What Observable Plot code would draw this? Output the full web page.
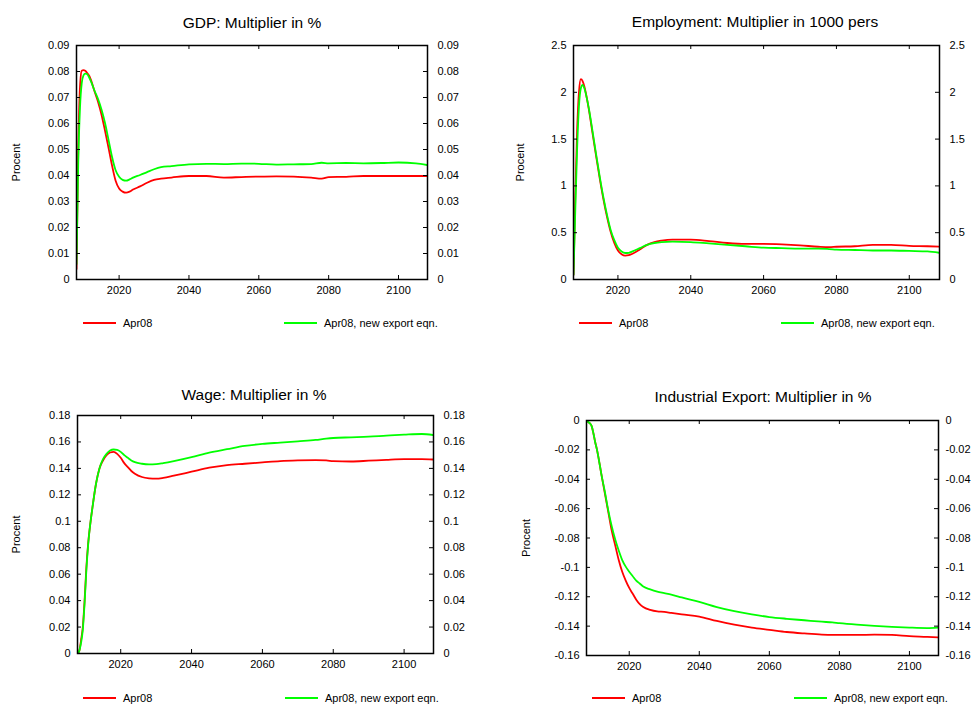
<!DOCTYPE html>
<html><head><meta charset="utf-8">
<script src="https://cdn.jsdelivr.net/npm/d3@7"></script>
<script src="https://cdn.jsdelivr.net/npm/@observablehq/plot@0.6"></script>
<style>
html,body{margin:0;background:#fff;overflow:hidden;}
#wrap{position:relative;width:974px;height:704px;overflow:hidden;font-family:"Liberation Sans",Arial,sans-serif;color:#000;}
.title{position:absolute;font-size:15.5px;line-height:18px;transform:translateX(-50%);white-space:nowrap;}
.panel{position:absolute;}
.leg{position:absolute;font-size:11px;line-height:13px;white-space:nowrap;}
.leg .sw{display:inline-block;width:33px;height:0;border-top:2px solid;vertical-align:middle;margin-right:7px;position:relative;top:-1px;}
</style></head><body><div id="wrap"></div>
<script>
// ---------- data ----------
const years = [2007.8, 2008.3, 2008.8, 2009.3, 2009.8, 2010.3, 2010.8, 2011.5, 2012, 2013, 2014, 2015, 2016, 2017, 2018, 2019, 2020, 2021, 2022, 2023, 2024, 2026, 2028, 2030, 2032, 2035, 2040, 2045, 2050, 2055, 2060, 2065, 2070, 2075, 2078, 2080, 2085, 2090, 2095, 2100, 2105, 2108.3];

const seriesNames = ["Apr08", "Apr08, new export eqn."];

const gdpRed = [0.004, 0.050, 0.074, 0.0803, 0.0805, 0.0803, 0.0795, 0.0782, 0.0765, 0.0722, 0.0682, 0.0632, 0.057, 0.0505, 0.0437, 0.038, 0.035, 0.0338, 0.0334, 0.0338, 0.0346, 0.0358, 0.0372, 0.0383, 0.0388, 0.0392, 0.0398, 0.0398, 0.0392, 0.0394, 0.0396, 0.0397, 0.0396, 0.0392, 0.0388, 0.0394, 0.0395, 0.0398, 0.0398, 0.0398, 0.0398, 0.0398];
const gdpGreen = [0.006, 0.045, 0.066, 0.0755, 0.0785, 0.0792, 0.0790, 0.0775, 0.076, 0.0725, 0.0693, 0.0652, 0.060, 0.0535, 0.047, 0.042, 0.0395, 0.0383, 0.038, 0.0385, 0.0392, 0.0402, 0.0413, 0.0424, 0.0432, 0.0436, 0.0443, 0.0445, 0.0444, 0.0446, 0.0445, 0.0442, 0.0443, 0.0444, 0.0449, 0.0447, 0.0448, 0.0447, 0.0448, 0.045, 0.0447, 0.044];

const empRed = [0.05, 0.9, 1.6, 2.0, 2.14, 2.12, 2.06, 1.93, 1.82, 1.57, 1.32, 1.08, 0.86, 0.67, 0.51, 0.39, 0.31, 0.27, 0.255, 0.26, 0.275, 0.32, 0.37, 0.40, 0.415, 0.425, 0.425, 0.41, 0.39, 0.38, 0.38, 0.375, 0.365, 0.35, 0.345, 0.35, 0.355, 0.37, 0.37, 0.36, 0.355, 0.35];
const empGreen = [0.05, 0.75, 1.4, 1.85, 2.04, 2.08, 2.04, 1.93, 1.83, 1.59, 1.34, 1.1, 0.88, 0.69, 0.53, 0.42, 0.34, 0.30, 0.283, 0.285, 0.30, 0.335, 0.37, 0.39, 0.40, 0.405, 0.40, 0.385, 0.37, 0.355, 0.34, 0.335, 0.33, 0.33, 0.325, 0.32, 0.315, 0.31, 0.31, 0.305, 0.30, 0.285];

const wageRed = [0, 0.002, 0.01, 0.02, 0.04, 0.065, 0.083, 0.1, 0.11, 0.128, 0.14, 0.146, 0.15, 0.152, 0.1525, 0.151, 0.148, 0.144, 0.141, 0.138, 0.136, 0.1335, 0.1325, 0.1322, 0.1328, 0.1345, 0.1375, 0.1405, 0.1425, 0.1435, 0.1445, 0.1455, 0.146, 0.1462, 0.146, 0.1455, 0.1452, 0.1458, 0.1465, 0.147, 0.147, 0.1467];
const wageGreen = [0, 0.002, 0.008, 0.018, 0.038, 0.063, 0.082, 0.1, 0.11, 0.128, 0.14, 0.147, 0.151, 0.1535, 0.1543, 0.154, 0.1525, 0.150, 0.148, 0.146, 0.1447, 0.1435, 0.143, 0.1432, 0.144, 0.1455, 0.1485, 0.152, 0.1545, 0.157, 0.1585, 0.1595, 0.1605, 0.1615, 0.1625, 0.163, 0.1635, 0.164, 0.1648, 0.1655, 0.166, 0.1652];

const expRed = [0, -0.001, -0.002, -0.004, -0.009, -0.015, -0.02, -0.029, -0.036, -0.049, -0.062, -0.075, -0.085, -0.095, -0.103, -0.109, -0.114, -0.118, -0.122, -0.125, -0.127, -0.129, -0.130, -0.1303, -0.131, -0.132, -0.1335, -0.1365, -0.139, -0.141, -0.1425, -0.144, -0.145, -0.1458, -0.146, -0.146, -0.146, -0.1458, -0.146, -0.1468, -0.1473, -0.1477];
const expGreen = [0, -0.001, -0.002, -0.004, -0.009, -0.015, -0.02, -0.029, -0.036, -0.048, -0.061, -0.072, -0.081, -0.0885, -0.095, -0.0995, -0.103, -0.106, -0.109, -0.111, -0.113, -0.115, -0.1165, -0.1175, -0.1185, -0.1205, -0.1235, -0.127, -0.1298, -0.132, -0.1338, -0.135, -0.136, -0.137, -0.1375, -0.138, -0.139, -0.1398, -0.1405, -0.141, -0.1413, -0.141];

const xTicks = [2020, 2040, 2060, 2080, 2100];
const gdpTicks = [0, 0.01, 0.02, 0.03, 0.04, 0.05, 0.06, 0.07, 0.08, 0.09];
const empTicks = [0, 0.5, 1, 1.5, 2, 2.5];
const wageTicks = [0, 0.02, 0.04, 0.06, 0.08, 0.1, 0.12, 0.14, 0.16, 0.18];
const expTicks = [0, -0.02, -0.04, -0.06, -0.08, -0.1, -0.12, -0.14, -0.16];

const titles = ["GDP: Multiplier in %", "Employment: Multiplier in 1000 pers", "Wage: Multiplier in %", "Industrial Export: Multiplier in %"];
const yLabel = "Procent";

// ---------- layout (styles only) ----------
const panels = [
  {title: titles[0], red: gdpRed, green: gdpGreen, dom: [0, 0.09], ticks: gdpTicks,
   left: 0, top: 0, w: 487, h: 300, mL: 76, mR: 60, mT: 45, mB: 21, lo: 64, rp: 10, tx: 252, ty: 14, ly: 316.5, lr: 83, lg: 284},
  {title: titles[1], red: empRed, green: empGreen, dom: [0, 2.5], ticks: empTicks,
   left: 487, top: 0, w: 487, h: 300, mL: 86, mR: 35, mT: 45, mB: 21, lo: 57, rp: 10, tx: 755, ty: 13, ly: 316.5, lr: 579, lg: 781},
  {title: titles[2], red: wageRed, green: wageGreen, dom: [0, 0.18], ticks: wageTicks,
   left: 0, top: 370, w: 487, h: 300, mL: 77, mR: 54, mT: 45, mB: 17, lo: 65, rp: 10, tx: 254, ty: 386, ly: 691.5, lr: 83, lg: 285},
  {title: titles[3], red: expRed, green: expGreen, dom: [-0.16, 0], ticks: expTicks,
   left: 487, top: 370, w: 487, h: 300, mL: 99, mR: 36, mT: 50, mB: 15, lo: 64, rp: 7, tx: 763, ty: 388, ly: 691.5, lr: 592, lg: 794}
];

const fmt = d => String(+d.toFixed(3));
const wrap = document.getElementById("wrap");

for (const p of panels) {
  const innerW = p.w - p.mL - p.mR;
  const innerH = p.h - p.mT - p.mB;
  const redData = years.map((x, i) => ({x, y: p.red[i]}));
  const greenData = years.map((x, i) => ({x, y: p.green[i]}));
  const chart = Plot.plot({
    width: p.w, height: p.h,
    marginLeft: p.mL, marginRight: p.mR, marginTop: p.mT, marginBottom: p.mB,
    style: {fontFamily: '"Liberation Sans", Arial, sans-serif', fontSize: "11px", color: "#000", background: "transparent", overflow: "visible"},
    x: {domain: [2007.8, 2108.3]},
    y: {domain: p.dom},
    marks: [
      Plot.line(redData, {x: "x", y: "y", stroke: "#ff0000", strokeWidth: 1.8, curve: "monotone-x", clip: true}),
      Plot.line(greenData, {x: "x", y: "y", stroke: "#00ff00", strokeWidth: 1.8, curve: "monotone-x", clip: true}),
      Plot.tickX(xTicks, {x: d => d, stroke: "#000", insetTop: innerH - 4}),
      Plot.tickX(xTicks, {x: d => d, stroke: "#000", insetBottom: innerH - 4}),
      Plot.tickY(p.ticks, {y: d => d, stroke: "#000", insetRight: innerW - 4}),
      Plot.tickY(p.ticks, {y: d => d, stroke: "#000", insetLeft: innerW - 4}),
      Plot.axisX({anchor: "bottom", ticks: xTicks, tickSize: 0, tickPadding: 7, tickFormat: d => String(d), label: null}),
      Plot.axisY({anchor: "left", ticks: p.ticks, tickSize: 0, tickPadding: 7, tickFormat: fmt, label: yLabel, labelAnchor: "center", labelOffset: p.lo, labelArrow: "none"}),
      Plot.axisY({anchor: "right", ticks: p.ticks, tickSize: 0, tickPadding: p.rp, tickFormat: fmt, label: null}),
      Plot.frame({stroke: "#000", strokeWidth: 1.5})
    ]
  });
  chart.classList.add("panel");
  chart.style.left = p.left + "px";
  chart.style.top = p.top + "px";
  wrap.appendChild(chart);

  const t = document.createElement("div");
  t.className = "title";
  t.textContent = p.title;
  t.style.left = p.tx + "px";
  t.style.top = p.ty + "px";
  wrap.appendChild(t);

  [[p.lr, "#ff0000", seriesNames[0]], [p.lg, "#00ff00", seriesNames[1]]].forEach(([lx, col, name]) => {
    const l = document.createElement("div");
    l.className = "leg";
    l.style.left = lx + "px";
    l.style.top = p.ly + "px";
    const sw = document.createElement("span");
    sw.className = "sw";
    sw.style.borderTopColor = col;
    l.appendChild(sw);
    l.appendChild(document.createTextNode(name));
    wrap.appendChild(l);
  });
}
</script>
</body></html>
